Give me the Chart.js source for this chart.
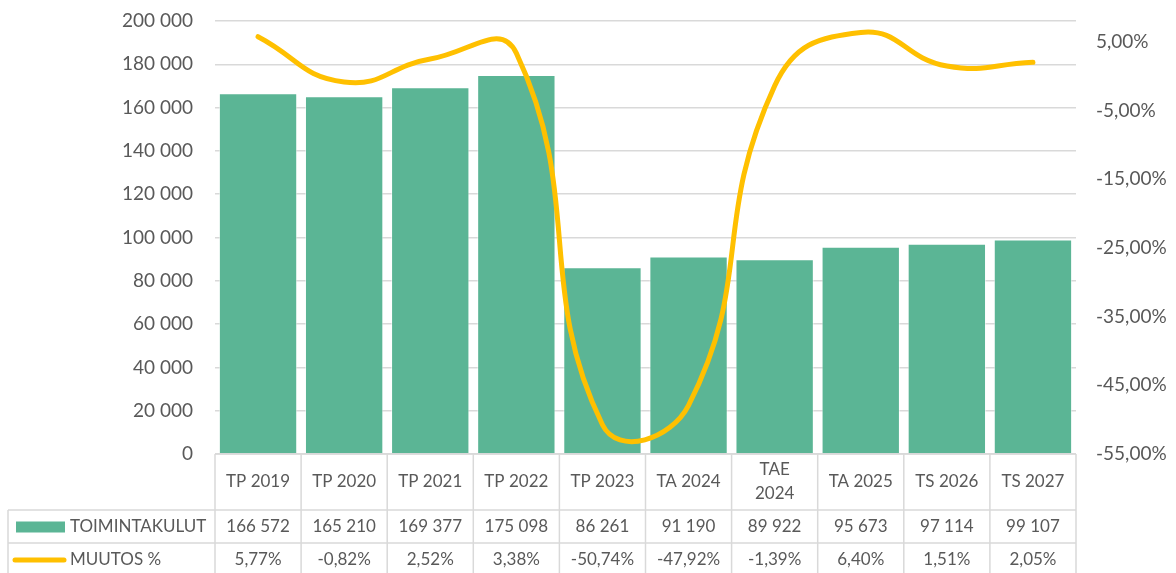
<!DOCTYPE html>
<html><head><meta charset="utf-8">
<script src="https://cdn.jsdelivr.net/npm/chart.js@4.4.1/dist/chart.umd.min.js"></script>
<style>html,body{margin:0;padding:0;background:#fff;} #wrap{width:1176px;height:573px;position:relative;}</style>
</head><body><div id="wrap"><canvas id="c"></canvas></div>
<script>
const categories = ['TP 2019','TP 2020','TP 2021','TP 2022','TP 2023','TA 2024',['TAE','2024'],'TA 2025','TS 2026','TS 2027'];
const toimintakulut = [166572,165210,169377,175098,86261,91190,89922,95673,97114,99107];
const muutos = [5.77,-0.82,2.52,3.38,-50.74,-47.92,-1.39,6.40,1.51,2.05];
const leftTicks = [0,20000,40000,60000,80000,100000,120000,140000,160000,180000,200000];
const rightTicks = [-55,-45,-35,-25,-15,-5,5];
const seriesNames = ['TOIMINTAKULUT','MUUTOS %'];

const BAR = '#5BB595', LINE = '#FFC000', TXT = '#595959', GRID = '#d9d9d9';
const FONT = 'Lato';
const fmtNum = v => String(v).replace(/\B(?=(\d{3})+(?!\d))/g, ' ');
const fmtPct = v => v.toFixed(2).replace('.', ',') + '%';

const tablePlugin = {
  id: 'table',
  afterDraw(chart) {
    const {ctx, chartArea: ca, scales: {x}} = chart;
    const n = categories.length;
    const step = x.getPixelForValue(1) - x.getPixelForValue(0);
    const b = []; for (let i = 0; i <= n; i++) b.push(x.getPixelForValue(0) - step / 2 + i * step);
    const top = ca.bottom, r1 = top + 56, r2 = top + 89, bot = chart.height + 4, left = 8;
    ctx.save();
    ctx.strokeStyle = GRID; ctx.lineWidth = 1.5;
    ctx.beginPath();
    ctx.moveTo(b[0], top); ctx.lineTo(b[n], top);
    ctx.moveTo(left, r1); ctx.lineTo(b[n], r1);
    ctx.moveTo(left, r2); ctx.lineTo(b[n], r2);
    ctx.moveTo(left, r1); ctx.lineTo(left, bot);
    for (let i = 0; i <= n; i++) { ctx.moveTo(b[i], top); ctx.lineTo(b[i], bot); }
    ctx.stroke();
    ctx.fillStyle = TXT; ctx.textAlign = 'center'; ctx.textBaseline = 'middle';
    ctx.font = `17px ${FONT}`;
    const c1 = (top + r1) / 2, c2 = (r1 + r2) / 2, c3 = (r2 + bot) / 2;
    for (let i = 0; i < n; i++) {
      const cx = (b[i] + b[i + 1]) / 2;
      const lab = categories[i];
      if (Array.isArray(lab)) {
        lab.forEach((t, k) => ctx.fillText(t, cx, c1 + (k - (lab.length - 1) / 2) * 24));
      } else ctx.fillText(lab, cx, c1);
      ctx.fillText(fmtNum(toimintakulut[i]), cx, c2);
      ctx.fillText(fmtPct(muutos[i]), cx, c3);
    }
    // legend keys
    ctx.fillStyle = BAR; ctx.fillRect(16, c2 - 5, 49, 11);
    ctx.strokeStyle = LINE; ctx.lineWidth = 5; ctx.lineCap = 'round';
    ctx.beginPath(); ctx.moveTo(15, c3); ctx.lineTo(64, c3); ctx.stroke();
    ctx.fillStyle = TXT; ctx.textAlign = 'left';
    ctx.fillText(seriesNames[0], 70, c2);
    ctx.fillText(seriesNames[1], 70, c3);
    ctx.restore();
  }
};

function fixV(w) {
  return function (s) { s.width = w; s.paddingTop = 0; s.paddingBottom = 0; };
}

new Chart(document.getElementById('c'), {
  data: {
    labels: categories,
    datasets: [
      { type: 'line', label: seriesNames[1], data: muutos, yAxisID: 'y1', order: 0,
        borderColor: LINE, borderWidth: 5, pointRadius: 0, tension: 0.48, fill: false,
        capBezierPoints: false, borderCapStyle: 'round' },
      { type: 'bar', label: seriesNames[0], data: toimintakulut, yAxisID: 'y', order: 1,
        backgroundColor: BAR, borderColor: 'rgba(255,255,255,0.55)', borderWidth: 1,
        categoryPercentage: 1.0, barPercentage: 0.91 }
    ]
  },
  options: {
    responsive: true, maintainAspectRatio: false, animation: false,
    layout: { padding: { top: 21, left: 0, right: 0, bottom: 0 } },
    plugins: { legend: { display: false }, tooltip: { enabled: false } },
    scales: {
      x: { offset: true, grid: { display: false }, border: { display: false },
           ticks: { display: false }, afterFit(s) { s.height = 119; } },
      y: { position: 'left', min: 0, max: 200000,
           afterBuildTicks(s) { s.ticks = leftTicks.map(v => ({ value: v })); },
           grid: { color: GRID, lineWidth: 1.5, drawTicks: false },
           border: { display: false },
           ticks: { padding: 22, color: TXT, font: { family: FONT, size: 19 }, callback: v => fmtNum(v) },
           afterFit: fixV(215) },
      y1: { position: 'right', min: -55, max: 8.06,
            afterBuildTicks(s) { s.ticks = rightTicks.map(v => ({ value: v })); },
            grid: { display: false, drawTicks: false }, border: { display: false },
            ticks: { padding: 20, color: TXT, font: { family: FONT, size: 19 }, callback: v => fmtPct(v) },
            afterFit: fixV(100) }
    }
  },
  plugins: [tablePlugin]
});
</script></body></html>
